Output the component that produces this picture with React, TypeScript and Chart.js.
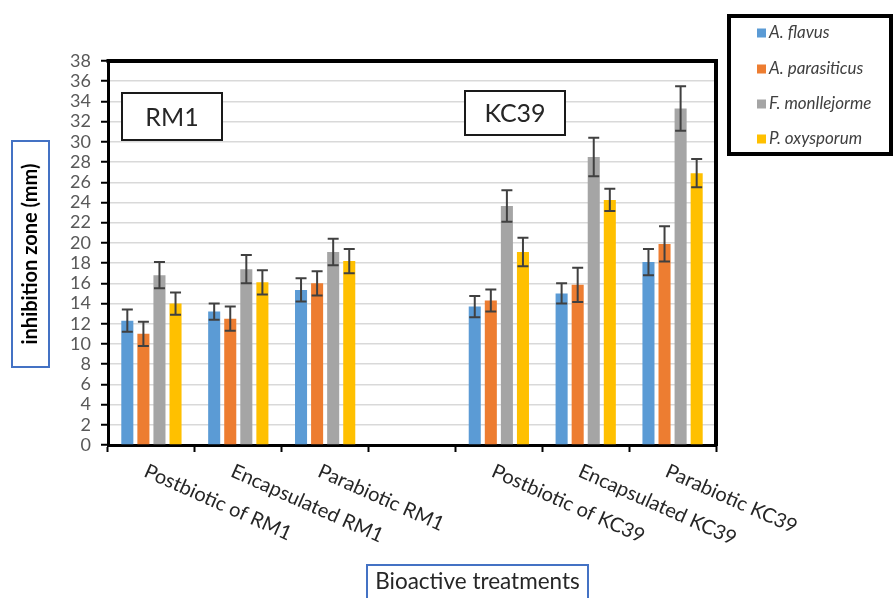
import React, { useEffect, useRef } from 'react';
import { Chart, registerables } from 'chart.js';

Chart.register(...registerables);

const categories = [
  'Postbiotic of RM1',
  'Encapsulated RM1',
  'Parabiotic RM1',
  '',
  'Postbiotic of KC39',
  'Encapsulated KC39',
  'Parabiotic KC39',
];
const seriesNames = ['A. flavus', 'A. parasiticus', 'F. monllejorme', 'P. oxysporum'];
const seriesColors = ['#5B9BD5', '#ED7D31', '#A5A5A5', '#FFC000'];

const flavus = [12.3, 13.2, 15.35, null, 13.7, 15.0, 18.1];
const parasiticus = [11.0, 12.5, 16.0, null, 14.3, 15.85, 19.9];
const monilejorme = [16.8, 17.4, 19.1, null, 23.65, 28.5, 33.3];
const oxysporum = [14.0, 16.1, 18.2, null, 19.1, 24.25, 26.9];

const flavusErr = [1.1, 0.8, 1.15, null, 1.05, 1.0, 1.3];
const parasiticusErr = [1.2, 1.2, 1.2, null, 1.1, 1.7, 1.75];
const monilejormeErr = [1.3, 1.4, 1.3, null, 1.55, 1.9, 2.2];
const oxysporumErr = [1.1, 1.2, 1.2, null, 1.4, 1.1, 1.4];

const yMin = 0;
const yMax = 38;
const yStep = 2;

const xTitle = 'Bioactive treatments';
const yTitle = 'inhibition zone (mm)';
const groupTags = ['RM1', 'KC39'];

const seriesValues = [flavus, parasiticus, monilejorme, oxysporum];
const seriesErrors = [flavusErr, parasiticusErr, monilejormeErr, oxysporumErr];

const FONT = 'Lato, "Open Sans", sans-serif';

const errorBarPlugin = {
  id: 'errorBars',
  afterDatasetsDraw(chart: any) {
    const ctx = chart.ctx;
    const y = chart.scales.y;
    chart.data.datasets.forEach((ds: any, di: number) => {
      const meta = chart.getDatasetMeta(di);
      meta.data.forEach((bar: any, i: number) => {
        const v = ds.data[i];
        const e = seriesErrors[di][i];
        if (v == null || e == null || !isFinite(bar.x)) return;
        const x = bar.x;
        const yt = y.getPixelForValue(v + e);
        const yb = y.getPixelForValue(v - e);
        ctx.save();
        ctx.strokeStyle = '#404040';
        ctx.lineWidth = 2;
        ctx.beginPath();
        ctx.moveTo(x, yt);
        ctx.lineTo(x, yb);
        ctx.moveTo(x - 5.5, yt);
        ctx.lineTo(x + 5.5, yt);
        ctx.moveTo(x - 5.5, yb);
        ctx.lineTo(x + 5.5, yb);
        ctx.stroke();
        ctx.restore();
      });
    });
  },
};

const decorPlugin = {
  id: 'decor',
  afterDraw(chart: any) {
    const ctx = chart.ctx;
    const a = chart.chartArea;
    const xs = chart.scales.x;
    ctx.save();

    // plot frame top & right
    ctx.strokeStyle = '#000';
    ctx.lineWidth = 4;
    ctx.beginPath();
    ctx.moveTo(a.left - 1.5, a.top);
    ctx.lineTo(a.right, a.top);
    ctx.lineTo(a.right, a.bottom + 1.5);
    ctx.stroke();

    // group tag boxes
    const tagBoxes = [
      [122, 93, 100, 47],
      [465, 91, 100, 44],
    ];
    tagBoxes.forEach((b, i) => {
      ctx.fillStyle = '#fff';
      ctx.fillRect(b[0], b[1], b[2], b[3]);
      ctx.strokeStyle = '#1a1a1a';
      ctx.lineWidth = 2;
      ctx.strokeRect(b[0], b[1], b[2], b[3]);
      ctx.fillStyle = '#262626';
      ctx.font = `25px ${FONT}`;
      ctx.textAlign = 'center';
      ctx.textBaseline = 'middle';
      ctx.fillText(groupTags[i], b[0] + b[2] / 2, b[1] + b[3] / 2 + 1);
    });

    // legend
    ctx.fillStyle = '#fff';
    ctx.fillRect(729, 16, 162, 138);
    ctx.strokeStyle = '#000';
    ctx.lineWidth = 4;
    ctx.strokeRect(729, 16, 162, 138);
    const rowsY = [33, 69, 104, 139];
    seriesNames.forEach((n, i) => {
      ctx.fillStyle = seriesColors[i];
      ctx.fillRect(757, rowsY[i] - 4.5, 9, 9);
      ctx.fillStyle = '#404040';
      ctx.font = `italic 17px ${FONT}`;
      ctx.textAlign = 'left';
      ctx.textBaseline = 'middle';
      ctx.fillText(n, 769, rowsY[i]);
    });

    // x category labels, rotated downward
    ctx.fillStyle = '#262626';
    ctx.font = `20px ${FONT}`;
    ctx.textAlign = 'left';
    ctx.textBaseline = 'top';
    categories.forEach((c, i) => {
      if (!c) return;
      const cx = xs.getPixelForValue(i);
      ctx.save();
      ctx.translate(cx - 2, 461);
      ctx.rotate((24 * Math.PI) / 180);
      ctx.fillText(c, 0, 0);
      ctx.restore();
    });

    // x title box
    ctx.strokeStyle = '#4472C4';
    ctx.lineWidth = 2;
    ctx.fillStyle = '#fff';
    ctx.fillRect(367, 565, 221, 40);
    ctx.strokeRect(367, 565, 221, 40);
    ctx.fillStyle = '#262626';
    ctx.font = `22.5px ${FONT}`;
    ctx.textAlign = 'center';
    ctx.textBaseline = 'middle';
    ctx.fillText(xTitle, 477.5, 582);

    // y title box
    ctx.strokeStyle = '#4472C4';
    ctx.lineWidth = 2;
    ctx.strokeRect(12, 141, 37, 226);
    ctx.save();
    ctx.translate(31, 254);
    ctx.rotate(-Math.PI / 2);
    ctx.fillStyle = '#000';
    ctx.font = `bold 20px ${FONT}`;
    ctx.textAlign = 'center';
    ctx.textBaseline = 'middle';
    ctx.fillText(yTitle, 0, 0);
    ctx.restore();

    ctx.restore();
  },
};

export default function App() {
  const ref = useRef<HTMLCanvasElement | null>(null);
  useEffect(() => {
    if (!ref.current) return;
    const chart = new Chart(ref.current, {
      type: 'bar',
      data: {
        labels: categories,
        datasets: seriesNames.map((n, i) => ({
          label: n,
          data: seriesValues[i] as any,
          backgroundColor: seriesColors[i],
          borderWidth: 0,
          barPercentage: 0.75,
          categoryPercentage: 0.74,
        })),
      },
      options: {
        animation: false,
        responsive: false,
        layout: { padding: { top: 61, right: 177, left: 0, bottom: 0 } },
        plugins: { legend: { display: false }, tooltip: { enabled: false } },
        scales: {
          x: {
            grid: {
              drawOnChartArea: false,
              drawTicks: true,
              tickLength: 7,
              tickColor: '#000',
              tickWidth: 2,
              offset: true,
            },
            border: { color: '#000', width: 3 },
            ticks: { display: false },
            afterFit: (s: any) => {
              s.height = 153;
            },
          },
          y: {
            min: yMin,
            max: yMax,
            ticks: {
              stepSize: yStep,
              autoSkip: false,
              color: '#595959',
              font: { family: FONT, size: 18 },
              padding: 10,
            },
            grid: {
              color: '#D9D9D9',
              lineWidth: 1.5,
              tickLength: 7,
              tickColor: '#000',
              tickWidth: 2,
            },
            border: { color: '#000', width: 3 },
            afterFit: (s: any) => {
              s.width = 108;
            },
          },
        },
      },
      plugins: [errorBarPlugin, decorPlugin],
    });
    return () => chart.destroy();
  }, []);
  return (
    <div style={{ position: 'absolute', left: 0, top: 0, width: 893, height: 598, background: '#fff' }}>
      <canvas ref={ref} width={893} height={598} style={{ display: 'block' }} />
    </div>
  );
}
